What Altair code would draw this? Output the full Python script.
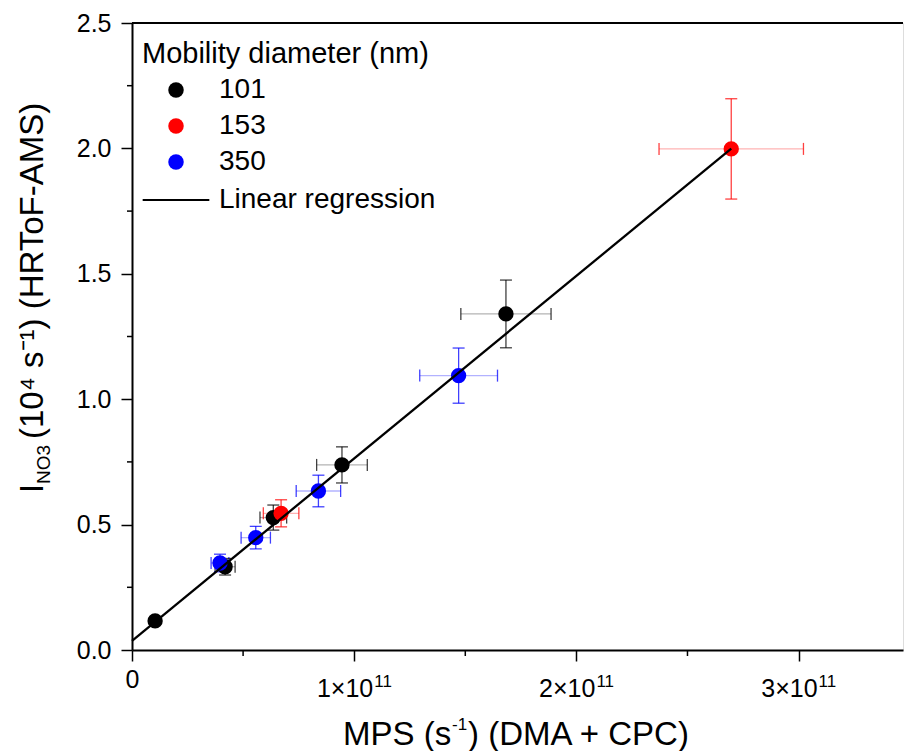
import altair as alt
import pandas as pd

# ---- data ----
diam = ["101", "101", "350", "350", "101", "153", "350", "101", "350", "101", "153"]
mps = [0.104e11, 0.419e11, 0.396e11, 0.557e11, 0.636e11, 0.671e11, 0.839e11, 0.945e11, 1.470e11, 1.683e11, 2.697e11]
ino3 = [0.116, 0.332, 0.347, 0.448, 0.528, 0.545, 0.634, 0.738, 1.094, 1.340, 1.998]
mps_err = [0.005e11, 0.045e11, 0.040e11, 0.066e11, 0.060e11, 0.080e11, 0.100e11, 0.114e11, 0.175e11, 0.203e11, 0.325e11]
ino3_err = [0.005, 0.033, 0.035, 0.045, 0.050, 0.054, 0.063, 0.072, 0.110, 0.135, 0.200]

reg_x = [0.0, 2.697e11]
reg_y = [0.036, 1.999]
reg_label = ["Linear regression", "Linear regression"]

diam_domain = ["101", "153", "350"]
diam_colors = ["#000000", "#ff0000", "#0000ff"]

x_ticks = [0, 1e11, 2e11, 3e11]
x_tick_mant = ["0", "1", "2", "3"]
x_minor = [0.5e11, 1.5e11, 2.5e11]
y_ticks = [0.0, 0.5, 1.0, 1.5, 2.0, 2.5]
y_minor = [0.25, 0.75, 1.25, 1.75, 2.25]

FONT = "Liberation Sans"
W, H = 771, 627

df = pd.DataFrame({"d": diam, "x": mps, "y": ino3, "xe": mps_err, "ye": ino3_err})
df["xlo"] = df.x - df.xe
df["xhi"] = df.x + df.xe
df["ylo"] = df.y - df.ye
df["yhi"] = df.y + df.ye
reg = pd.DataFrame({"x": reg_x, "y": reg_y, "lab": reg_label})
xt = pd.DataFrame({"v": x_ticks[1:], "m": [m + "×10" for m in x_tick_mant[1:]]})

xscale = alt.Scale(domain=[0, 3.47e11], nice=False, zero=False)
yscale = alt.Scale(domain=[0, 2.5], nice=False, zero=False)
cscale = alt.Scale(domain=diam_domain, range=diam_colors)

xaxis = alt.Axis(values=x_ticks,
                 labelExpr="datum.value == 0 ? '0' : ''",
                 title=None,
                 labelFontSize=25, labelFont=FONT, labelColor="black", labelPadding=6,
                 labelFlush=False, labelOverlap=False,
                 tickSize=11, tickWidth=1.5, tickColor="black",
                 domainColor="black", domainWidth=2, grid=False)
yaxis = alt.Axis(values=y_ticks, format=".1f", title=None,
                 labelFontSize=25, labelFont=FONT, labelColor="black", labelPadding=10,
                 labelFlush=False, labelOverlap=False,
                 tickSize=11, tickWidth=1.5, tickColor="black",
                 domainColor="black", domainWidth=2, grid=False)

base = alt.Chart(df)

v_err = base.mark_rule(strokeWidth=1.3, opacity=0.75).encode(
    x=alt.X("x:Q", scale=xscale, axis=xaxis),
    y=alt.Y("ylo:Q", scale=yscale, axis=yaxis),
    y2="yhi:Q",
    color=alt.Color("d:N", scale=cscale, legend=None),
)
v_caps = base.transform_fold(["ylo", "yhi"], as_=["k", "yc"]).mark_tick(
    orient="horizontal", size=12, thickness=1.3, opacity=0.75).encode(
    x="x:Q", y="yc:Q", color=alt.Color("d:N", scale=cscale, legend=None))
h_err = base.mark_rule(strokeWidth=1.3, opacity=0.3).encode(
    x="xlo:Q", x2="xhi:Q", y="y:Q",
    color=alt.Color("d:N", scale=cscale, legend=None))
h_caps = base.transform_fold(["xlo", "xhi"], as_=["k", "xc"]).mark_tick(
    orient="vertical", size=12, thickness=1.3, opacity=0.75).encode(
    x="xc:Q", y="y:Q", color=alt.Color("d:N", scale=cscale, legend=None))

pt_legend = alt.Legend(title="Mobility diameter (nm)", orient="none", legendX=10, legendY=17,
                       titleFontSize=29, titleFont=FONT, titleFontWeight="normal", titleColor="black",
                       titlePadding=7, titleLimit=1000, labelFontSize=28, labelFont=FONT,
                       labelColor="black", labelLimit=1000,
                       symbolType="circle", symbolSize=240, symbolStrokeWidth=0,
                       symbolOffset=20, labelOffset=29, rowPadding=8)

points = base.mark_point(filled=True, size=235, opacity=1).encode(
    x="x:Q", y="y:Q",
    fill=alt.Fill("d:N", scale=cscale, legend=pt_legend),
)

ln_legend = alt.Legend(title=None, orient="none", legendX=10, legendY=163,
                       labelFontSize=28, labelFont=FONT, labelColor="black", labelLimit=1000,
                       symbolType="M-4.6,0H4.6", symbolSize=210, symbolStrokeWidth=2.2,
                       symbolOffset=20, labelOffset=29)
line = alt.Chart(reg).mark_line(strokeWidth=2.3).encode(
    x="x:Q", y="y:Q",
    stroke=alt.Stroke("lab:N", scale=alt.Scale(domain=["Linear regression"], range=["black"]),
                      legend=ln_legend))

top_frame = alt.Chart(pd.DataFrame({"v": [2.5]})).mark_rule(color="black", strokeWidth=2).encode(
    y="v:Q", x=alt.value(0), x2=alt.value(W))
y_minor_ticks = alt.Chart(pd.DataFrame({"v": y_minor})).mark_rule(color="black", strokeWidth=1.5).encode(
    y="v:Q", x=alt.value(-5), x2=alt.value(0))
x_minor_ticks = alt.Chart(pd.DataFrame({"v": x_minor})).mark_rule(color="black", strokeWidth=1.5).encode(
    x="v:Q", y=alt.value(H), y2=alt.value(H + 6))

# x tick labels "n×10" with superscript "11"
xt_main = alt.Chart(xt).mark_text(fontSize=25, font=FONT, color="black", align="right",
                                  baseline="alphabetic", dx=19).encode(
    x="v:Q", y=alt.value(H + 47), text="m:N")
xt_sup = alt.Chart(xt).mark_text(fontSize=17, font=FONT, color="black", align="left",
                                 baseline="alphabetic", dx=20).encode(
    x="v:Q", y=alt.value(H + 37), text=alt.value("11"))

one = pd.DataFrame({"a": [0]})
# x title: MPS (s^-1) (DMA + CPC)
xs = dict(font=FONT, color="black", baseline="alphabetic", align="left")
xt1 = alt.Chart(one).mark_text(fontSize=33, **xs).encode(
    x=alt.value(211), y=alt.value(H + 95), text=alt.value("MPS (s"))
xt2 = alt.Chart(one).mark_text(fontSize=17, **xs).encode(
    x=alt.value(320), y=alt.value(H + 80), text=alt.value("-1"))
xt3 = alt.Chart(one).mark_text(fontSize=33, **xs).encode(
    x=alt.value(336), y=alt.value(H + 95), text=alt.value(") (DMA + CPC)"))

# y title: I_NO3 (10^4 s^-1) (HRToF-AMS)
ys = dict(angle=270, align="left", baseline="alphabetic", font=FONT, color="black")
yt1 = alt.Chart(one).mark_text(fontSize=33, **ys).encode(
    x=alt.value(-89), y=alt.value(470), text=alt.value("I"))
yt2 = alt.Chart(one).mark_text(fontSize=19, **ys).encode(
    x=alt.value(-82), y=alt.value(461), text=alt.value("NO3"))
yt3 = alt.Chart(one).mark_text(fontSize=33, **ys).encode(
    x=alt.value(-89), y=alt.value(416), text=alt.value(" (10⁴ s⁻¹) (HRToF-AMS)"))

chart = alt.layer(
    h_err, v_err, h_caps, v_caps, points, line, top_frame, y_minor_ticks, x_minor_ticks,
    xt_main, xt_sup, xt1, xt2, xt3, yt1, yt2, yt3
).resolve_legend(fill="independent", stroke="independent").properties(
    width=W, height=H,
    autosize=alt.AutoSizeParams(type="none"),
    padding={"left": 132, "top": 23, "right": 1, "bottom": 101},
).configure_view(stroke=None).configure(background="white")

chart.save("out.html", embed_options={"renderer": "svg", "actions": False})
